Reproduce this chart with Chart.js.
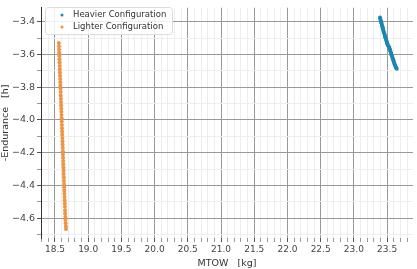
<!DOCTYPE html>
<html>
<head>
<meta charset="utf-8">
<script src="https://cdn.jsdelivr.net/npm/chart.js@4/dist/chart.umd.min.js"></script>
<style>
  html, body { margin: 0; padding: 0; background: #fff; }
  #wrap { width: 417px; height: 269px; position: relative; }
</style>
</head>
<body>
<div id="wrap"><canvas id="chart"></canvas></div>
<script>
// ── Data ──
const heavyX = [23.393, 23.398, 23.402, 23.407, 23.411, 23.416, 23.421, 23.427, 23.432, 23.437, 23.441,
                23.446, 23.452, 23.458, 23.463, 23.468, 23.474, 23.479, 23.485, 23.490, 23.496, 23.501,
                23.507, 23.512, 23.532, 23.536, 23.541, 23.547, 23.553, 23.559, 23.565, 23.570, 23.576,
                23.583, 23.589, 23.595, 23.601, 23.607, 23.614, 23.621, 23.628, 23.636, 23.645];
const heavyY = [-3.375, -3.382, -3.39, -3.397, -3.405, -3.412, -3.42, -3.427, -3.435, -3.442, -3.45,
                -3.457, -3.465, -3.472, -3.48, -3.487, -3.495, -3.502, -3.51, -3.517, -3.525, -3.532,
                -3.54, -3.546, -3.555, -3.562, -3.57, -3.577, -3.585, -3.592, -3.60, -3.607, -3.615,
                -3.622, -3.63, -3.637, -3.645, -3.652, -3.66, -3.667, -3.675, -3.681, -3.688];

const lightX = [18.558, 18.560, 18.561, 18.564, 18.565, 18.568, 18.569, 18.571, 18.573, 18.575,
                18.576, 18.579, 18.580, 18.582, 18.584, 18.586, 18.587, 18.590, 18.591, 18.593,
                18.595, 18.597, 18.598, 18.601, 18.602, 18.604, 18.606, 18.608, 18.609, 18.612,
                18.613, 18.615, 18.617, 18.619, 18.620, 18.623, 18.624, 18.626, 18.628, 18.630,
                18.631, 18.634, 18.635, 18.637, 18.639, 18.641, 18.642, 18.645, 18.646, 18.648,
                18.650, 18.652, 18.653, 18.656, 18.658, 18.661, 18.664, 18.666];
const lightY = [-3.53, -3.55, -3.57, -3.59, -3.61, -3.63, -3.65, -3.67, -3.69, -3.71,
                -3.73, -3.75, -3.77, -3.79, -3.81, -3.83, -3.85, -3.87, -3.89, -3.91,
                -3.93, -3.95, -3.97, -3.99, -4.01, -4.03, -4.05, -4.07, -4.09, -4.11,
                -4.13, -4.15, -4.17, -4.19, -4.21, -4.23, -4.25, -4.27, -4.29, -4.31,
                -4.33, -4.35, -4.37, -4.39, -4.41, -4.43, -4.45, -4.47, -4.49, -4.51,
                -4.53, -4.55, -4.57, -4.59, -4.61, -4.63, -4.65, -4.665];

const xTicks = [18.5, 19.0, 19.5, 20.0, 20.5, 21.0, 21.5, 22.0, 22.5, 23.0, 23.5];
const yTicks = [-3.4, -3.6, -3.8, -4.0, -4.2, -4.4, -4.6];

const BLUE   = '#1c86b0';
const ORANGE = '#ee9445';
const FONT   = 'DejaVu Sans';

const isMajor = (list, v) => list.some(t => Math.abs(t - v) < 1e-6);
const toPts = (xs, ys) => xs.map((x, i) => ({ x, y: ys[i] }));

// minor ticks every 0.1, majors come from the arrays above
function buildTicks(scale) {
  const ticks = [];
  for (let i = Math.ceil(scale.min * 10 - 1e-6); i <= Math.floor(scale.max * 10 + 1e-6); i++) {
    ticks.push({ value: Math.round(i) / 10 });
  }
  scale.ticks = ticks;
}

/* ── Legend inside the plot, top left ── */
const insideLegend = {
  id: 'insideLegend',
  afterDatasetsDraw(chart) {
    const ctx = chart.ctx;
    const x = 45, y = 7, w = 127, h = 27, r = 3;
    ctx.save();
    ctx.beginPath();
    ctx.roundRect(x + 0.5, y + 0.5, w, h, r);
    ctx.fillStyle = 'rgba(255,255,255,0.85)';
    ctx.fill();
    ctx.strokeStyle = '#dcdcdc';
    ctx.lineWidth = 1;
    ctx.stroke();
    ctx.font = '8.5px "' + FONT + '"';
    ctx.textBaseline = 'middle';
    chart.data.datasets.forEach((ds, i) => {
      const cy = y + 8 + i * 12;
      ctx.beginPath();
      ctx.arc(62, cy, 1.5, 0, Math.PI * 2);
      ctx.fillStyle = ds.backgroundColor;
      ctx.fill();
      ctx.fillStyle = '#333';
      ctx.fillText(ds.label, 73, cy);
    });
    ctx.restore();
  }
};

new Chart(document.getElementById('chart'), {
  type: 'scatter',
  data: {
    datasets: [{
      label: 'Heavier Configuration',
      data: toPts(heavyX, heavyY),
      backgroundColor: BLUE,
      borderWidth: 0,
      pointRadius: 2,
    }, {
      label: 'Lighter Configuration',
      data: toPts(lightX, lightY),
      backgroundColor: ORANGE,
      borderWidth: 0,
      pointRadius: 2,
    }]
  },
  options: {
    responsive: true,
    maintainAspectRatio: false,
    animation: false,
    layout: { padding: { top: 4, right: 4, left: 0, bottom: 0 } },
    plugins: { legend: { display: false }, tooltip: { enabled: false } },
    scales: {
      x: {
        type: 'linear',
        min: 18.29,
        max: 23.89,
        afterBuildTicks: buildTicks,
        afterFit: s => { s.height = 31; },
        border: { display: false },
        grid: {
          color: c => isMajor(xTicks, c.tick.value) ? '#999' : '#eeeeee',
          tickColor: c => isMajor(xTicks, c.tick.value) ? '#555' : '#999',
          tickLength: 4,
        },
        ticks: {
          autoSkip: false,
          maxRotation: 0,
          padding: 2,
          color: '#444',
          font: { family: FONT, size: 9 },
          callback: v => isMajor(xTicks, v) ? v.toFixed(1) : '',
        },
        title: {
          display: true,
          text: 'MTOW   [kg]',
          color: '#333',
          padding: 0,
          font: { family: FONT, size: 9.5 },
        }
      },
      y: {
        type: 'linear',
        min: -4.72,
        max: -3.315,
        afterBuildTicks: buildTicks,
        afterFit: s => { s.width = 41; },
        border: { display: true, color: '#333', width: 1 },
        grid: {
          color: c => isMajor(yTicks, c.tick.value) ? '#999' : '#eeeeee',
          tickColor: c => isMajor(yTicks, c.tick.value) ? '#555' : '#999',
          tickLength: 4,
        },
        ticks: {
          autoSkip: false,
          padding: 2,
          color: '#444',
          font: { family: FONT, size: 9.5 },
          callback: v => isMajor(yTicks, v) ? '\u2212' + Math.abs(v).toFixed(1) : '',
        },
        title: {
          display: true,
          text: '-Endurance   [h]',
          color: '#333',
          padding: 0,
          font: { family: FONT, size: 9.5 },
        }
      }
    }
  },
  plugins: [insideLegend]
});
</script>
</body>
</html>
